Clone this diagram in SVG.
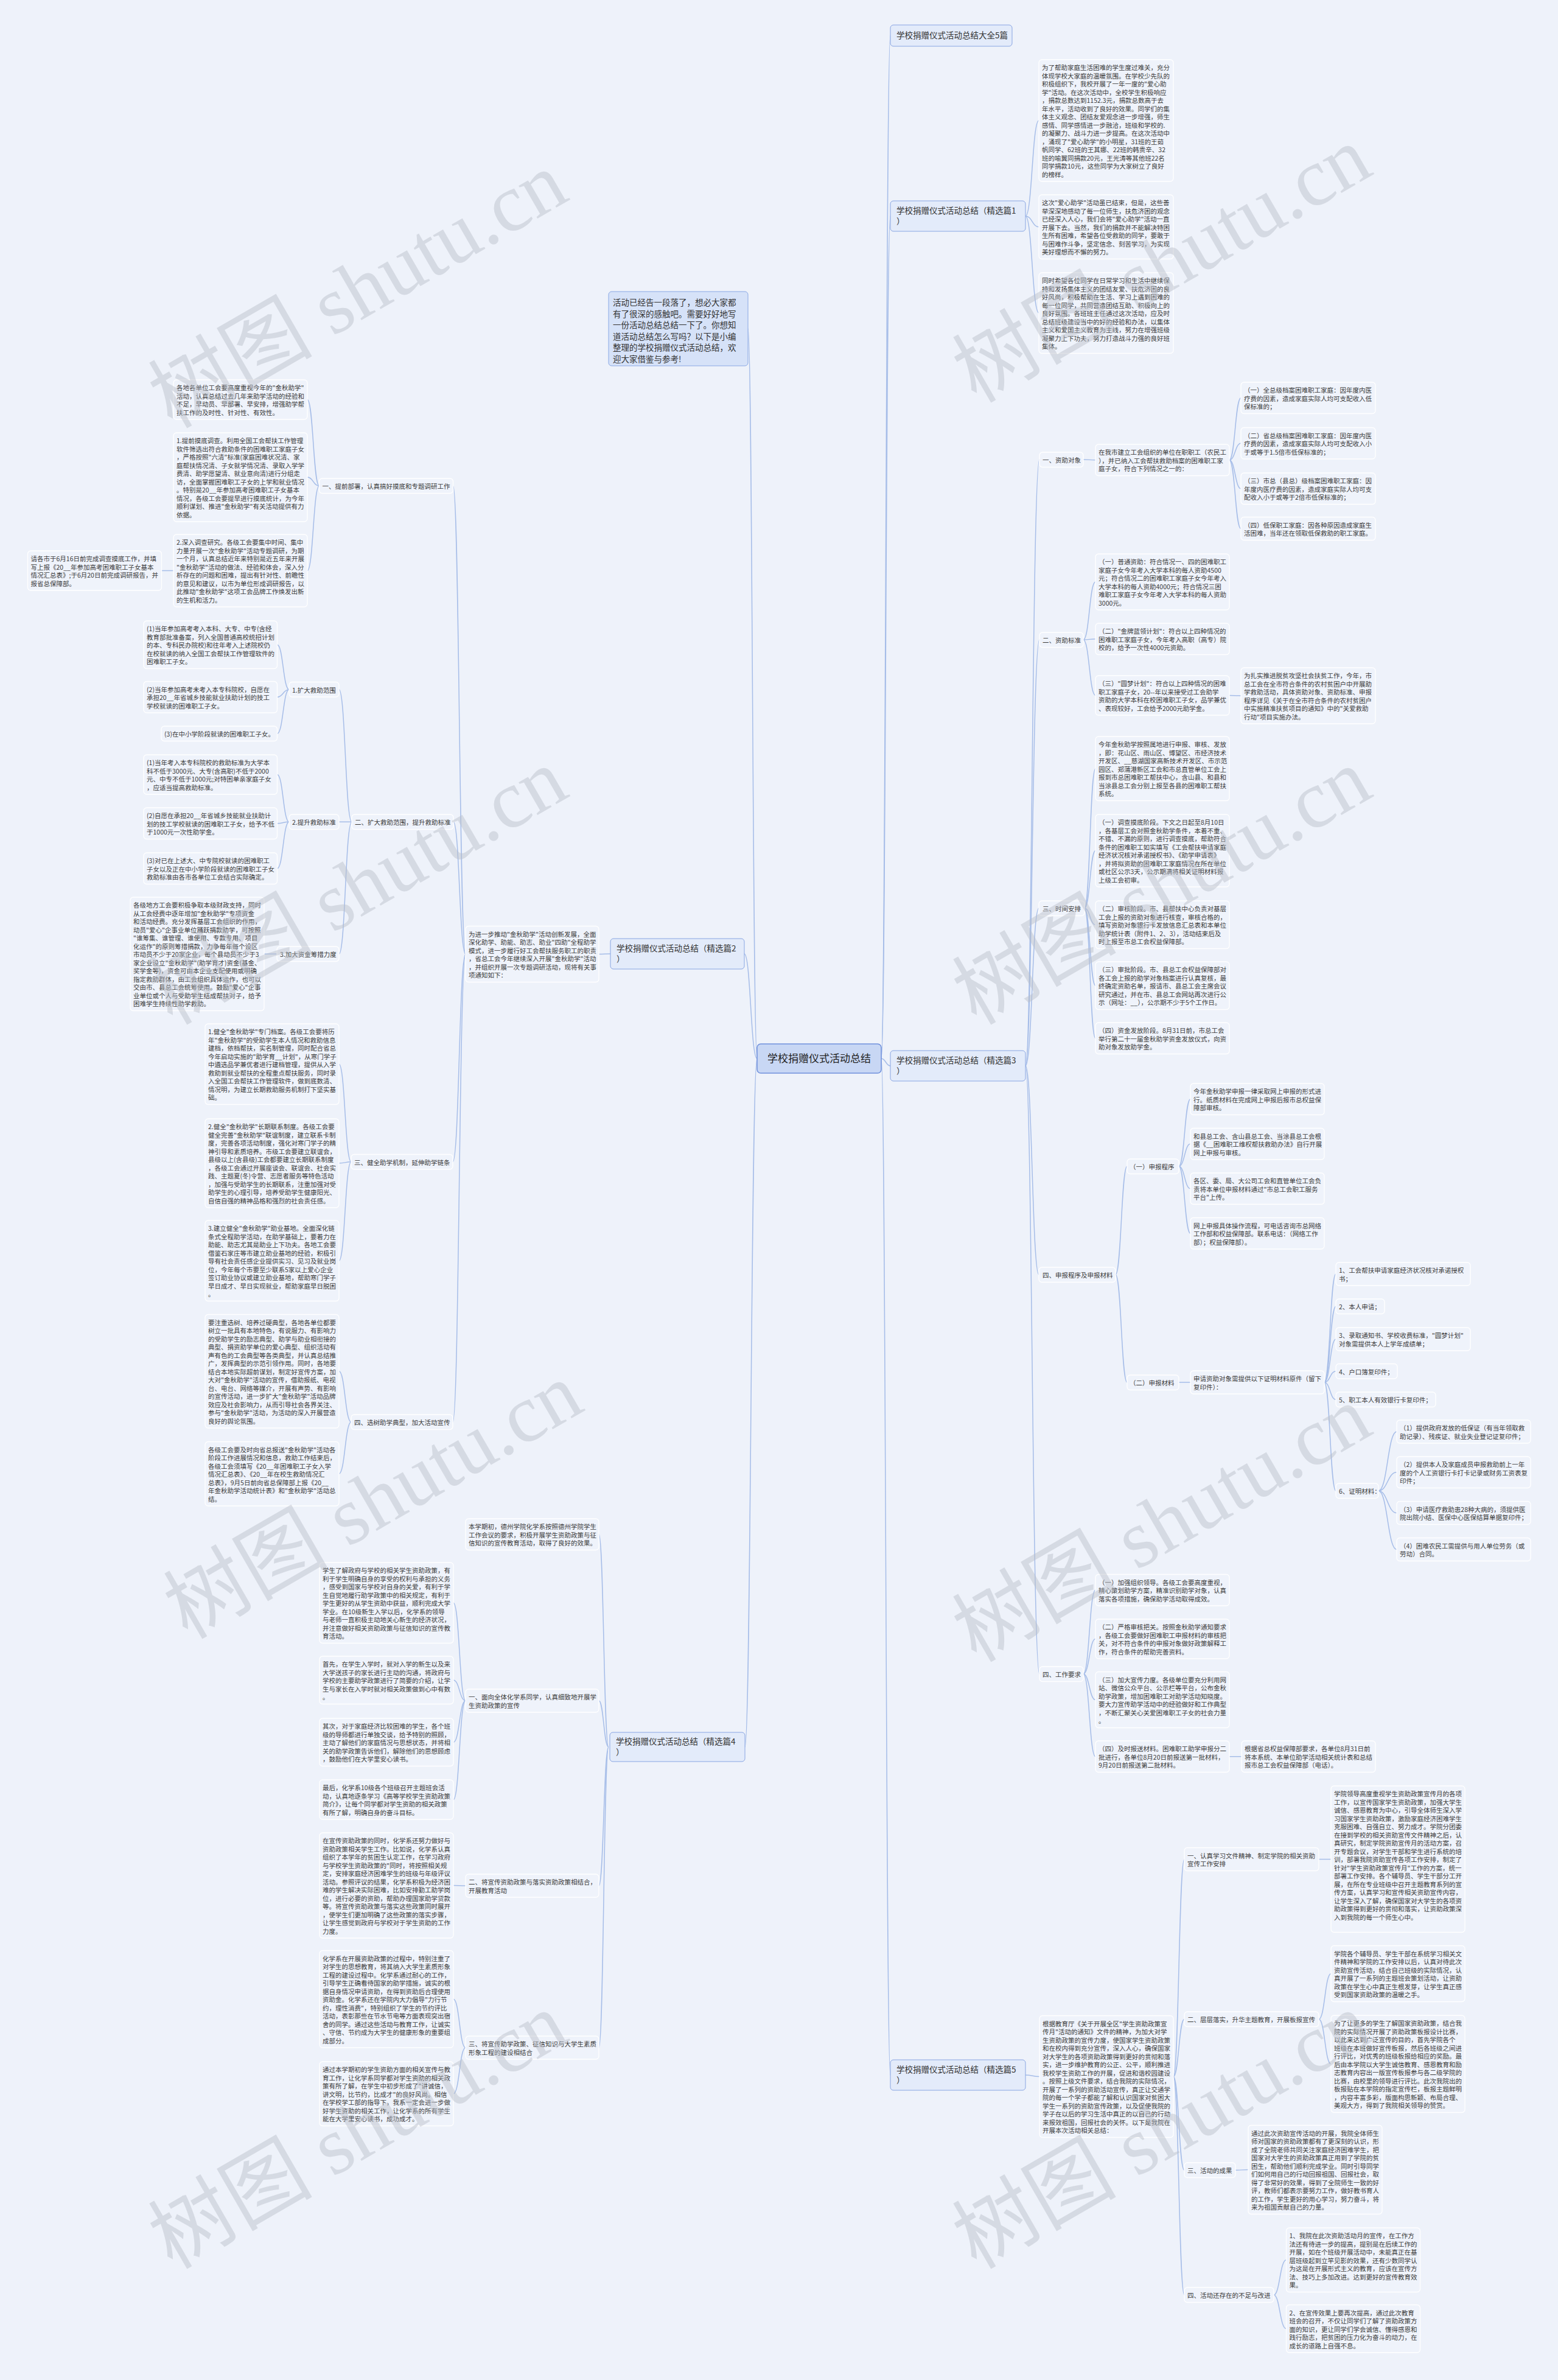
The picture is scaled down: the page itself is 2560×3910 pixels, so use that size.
<svg xmlns="http://www.w3.org/2000/svg" width="2560" height="3910" viewBox="0 0 2560 3910">
<style>
.box{fill:#eff3fb;stroke:#ffffff;stroke-width:1.3}
.t{font-family:"Noto Sans CJK SC","Liberation Sans",sans-serif;font-size:10.5px;fill:#3a3a3a}
.l1{fill:#e3ebfa;stroke:#88a5e2;stroke-width:1}
.l1t{font-family:"Noto Sans CJK SC","Liberation Sans",sans-serif;font-size:13.5px;fill:#333}
.cn{fill:#c8d7f4;stroke:#6f90dc;stroke-width:1.5}
.ct{font-family:"Noto Sans CJK SC","Liberation Sans",sans-serif;font-size:17px;fill:#222}
.nt{fill:#d6e2f8;stroke:#8aa8e4;stroke-width:1}
.ln{fill:none;stroke:#a6bde8;stroke-width:1.5}
.wm{font-family:"Liberation Serif","Noto Sans CJK SC",serif;font-size:135px;fill:#b9bec8;opacity:0.45;text-anchor:middle}
</style>
<rect width="2560" height="3910" fill="#eef2fa"/>
<g id="connectors">
<path class="ln" d="M1448 1739C1455.5 1739 1455.5 58.5 1463 58.5"/>
<path class="ln" d="M1448 1739C1455.5 1739 1455.5 355 1463 355"/>
<path class="ln" d="M1448 1739C1455.5 1739 1455.5 1751 1463 1751"/>
<path class="ln" d="M1448 1739C1455.5 1739 1455.5 3409 1463 3409"/>
<path class="ln" d="M1244 1739C1236.5 1739 1236.5 540 1229 540"/>
<path class="ln" d="M1244 1739C1233.5 1739 1233.5 1567 1223 1567"/>
<path class="ln" d="M1244 1739C1234 1739 1234 2870 1224 2870"/>
<path class="ln" d="M1685 355C1696 355 1696 198 1707 198"/>
<path class="ln" d="M1685 355C1696 355 1696 372.75 1707 372.75"/>
<path class="ln" d="M1685 355C1696 355 1696 514 1707 514"/>
<path class="ln" d="M1685 1751C1696 1751 1696 755 1708 755"/>
<path class="ln" d="M1685 1751C1696 1751 1696 1051 1708 1051"/>
<path class="ln" d="M1685 1751C1696 1751 1696 1492 1707 1492"/>
<path class="ln" d="M1685 1751C1696 1751 1696 2094 1707 2094"/>
<path class="ln" d="M1685 1751C1696 1751 1696 2750 1708 2750"/>
<path class="ln" d="M1780 755C1790 755 1790 755.75 1800 755.75"/>
<path class="ln" d="M2020 755.75C2029.5 755.75 2029.5 653.75 2039 653.75"/>
<path class="ln" d="M2020 755.75C2029.5 755.75 2029.5 728.25 2039 728.25"/>
<path class="ln" d="M2020 755.75C2029.5 755.75 2029.5 802.75 2039 802.75"/>
<path class="ln" d="M2020 755.75C2029.5 755.75 2029.5 868.5 2039 868.5"/>
<path class="ln" d="M1780 1051C1790 1051 1790 956 1800 956"/>
<path class="ln" d="M1780 1051C1790 1051 1790 1049.75 1800 1049.75"/>
<path class="ln" d="M1780 1051C1790 1051 1790 1142.5 1800 1142.5"/>
<path class="ln" d="M2020 1142.5C2029.5 1142.5 2029.5 1143 2039 1143"/>
<path class="ln" d="M1782 1492C1791 1492 1791 1262.75 1800 1262.75"/>
<path class="ln" d="M1782 1492C1791 1492 1791 1397.5 1800 1397.5"/>
<path class="ln" d="M1782 1492C1791 1492 1791 1519.25 1800 1519.25"/>
<path class="ln" d="M1782 1492C1791 1492 1791 1619.25 1800 1619.25"/>
<path class="ln" d="M1782 1492C1791 1492 1791 1705.75 1800 1705.75"/>
<path class="ln" d="M1833 2094C1842.5 2094 1842.5 1916 1852 1916"/>
<path class="ln" d="M1833 2094C1842.5 2094 1842.5 2271 1852 2271"/>
<path class="ln" d="M1937 1916C1946.5 1916 1946.5 1805.75 1956 1805.75"/>
<path class="ln" d="M1937 1916C1946.5 1916 1946.5 1879.25 1956 1879.25"/>
<path class="ln" d="M1937 1916C1946.5 1916 1946.5 1952.75 1956 1952.75"/>
<path class="ln" d="M1937 1916C1946.5 1916 1946.5 2026.25 1956 2026.25"/>
<path class="ln" d="M1937 2271C1946.5 2271 1946.5 2271 1956 2271"/>
<path class="ln" d="M2176 2271C2185.5 2271 2185.5 2093 2195 2093"/>
<path class="ln" d="M2176 2271C2185.5 2271 2185.5 2146.25 2195 2146.25"/>
<path class="ln" d="M2176 2271C2185.5 2271 2185.5 2200 2195 2200"/>
<path class="ln" d="M2176 2271C2185.5 2271 2185.5 2252.75 2195 2252.75"/>
<path class="ln" d="M2176 2271C2185.5 2271 2185.5 2299.25 2195 2299.25"/>
<path class="ln" d="M2176 2271C2185.5 2271 2185.5 2449.25 2195 2449.25"/>
<path class="ln" d="M2265 2449.25C2280 2449.25 2280 2352 2295 2352"/>
<path class="ln" d="M2265 2449.25C2280 2449.25 2280 2418.75 2295 2418.75"/>
<path class="ln" d="M2265 2449.25C2280 2449.25 2280 2485.5 2295 2485.5"/>
<path class="ln" d="M2265 2449.25C2280 2449.25 2280 2545.5 2295 2545.5"/>
<path class="ln" d="M1780 2750C1790 2750 1790 2612.25 1800 2612.25"/>
<path class="ln" d="M1780 2750C1790 2750 1790 2692.5 1800 2692.5"/>
<path class="ln" d="M1780 2750C1790 2750 1790 2792.5 1800 2792.5"/>
<path class="ln" d="M1780 2750C1790 2750 1790 2885.75 1800 2885.75"/>
<path class="ln" d="M2020 2885.75C2030 2885.75 2030 2885.75 2040 2885.75"/>
<path class="ln" d="M1685 3409C1696.5 3409 1696.5 3411.5 1708 3411.5"/>
<path class="ln" d="M1928 3411.5C1937 3411.5 1937 3054.5 1946 3054.5"/>
<path class="ln" d="M1928 3411.5C1937 3411.5 1937 3317.25 1946 3317.25"/>
<path class="ln" d="M1928 3411.5C1937 3411.5 1937 3565.25 1946 3565.25"/>
<path class="ln" d="M1928 3411.5C1937 3411.5 1937 3770.25 1946 3770.25"/>
<path class="ln" d="M2167 3054.5C2177 3054.5 2177 3054.5 2187 3054.5"/>
<path class="ln" d="M2167 3317.25C2177 3317.25 2177 3242.5 2187 3242.5"/>
<path class="ln" d="M2167 3317.25C2177 3317.25 2177 3390.75 2187 3390.75"/>
<path class="ln" d="M2030 3565.25C2040.5 3565.25 2040.5 3564.5 2051 3564.5"/>
<path class="ln" d="M2093 3770.25C2103 3770.25 2103 3712.75 2113.5 3712.75"/>
<path class="ln" d="M2093 3770.25C2103 3770.25 2103 3825.75 2113.5 3825.75"/>
<path class="ln" d="M1003 1567C993.5 1567 993.5 1567.5 984 1567.5"/>
<path class="ln" d="M765 1567.5C754.75 1567.5 754.75 798.25 744.5 798.25"/>
<path class="ln" d="M765 1567.5C755 1567.5 755 1350.25 745 1350.25"/>
<path class="ln" d="M765 1567.5C754.5 1567.5 754.5 1908.75 744 1908.75"/>
<path class="ln" d="M765 1567.5C754.5 1567.5 754.5 2336.25 744 2336.25"/>
<path class="ln" d="M524.5 798.25C514.75 798.25 514.75 656.5 505 656.5"/>
<path class="ln" d="M524.5 798.25C514.75 798.25 514.75 784 505 784"/>
<path class="ln" d="M524.5 798.25C514.75 798.25 514.75 937.5 505 937.5"/>
<path class="ln" d="M285 937.5C275.25 937.5 275.25 937.5 265.5 937.5"/>
<path class="ln" d="M578 1350.25C567.5 1350.25 567.5 1132.75 557 1132.75"/>
<path class="ln" d="M578 1350.25C567.5 1350.25 567.5 1350.25 557 1350.25"/>
<path class="ln" d="M578 1350.25C567.5 1350.25 567.5 1567.25 557 1567.25"/>
<path class="ln" d="M475 1132.75C465.25 1132.75 465.25 1059.25 455.5 1059.25"/>
<path class="ln" d="M475 1132.75C465.25 1132.75 465.25 1145.25 455.5 1145.25"/>
<path class="ln" d="M475 1132.75C465.25 1132.75 465.25 1205.25 455.5 1205.25"/>
<path class="ln" d="M475 1350.25C465.25 1350.25 465.25 1272.5 455.5 1272.5"/>
<path class="ln" d="M475 1350.25C465.25 1350.25 465.25 1352.75 455.5 1352.75"/>
<path class="ln" d="M475 1350.25C465.25 1350.25 465.25 1426.75 455.5 1426.75"/>
<path class="ln" d="M455 1567.25C444.5 1567.25 444.5 1567.25 434 1567.25"/>
<path class="ln" d="M577 1908.75C567 1908.75 567 1748.25 557 1748.25"/>
<path class="ln" d="M577 1908.75C567 1908.75 567 1911 557 1911"/>
<path class="ln" d="M577 1908.75C567 1908.75 567 2071.25 557 2071.25"/>
<path class="ln" d="M577 2336.25C567 2336.25 567 2252.75 557 2252.75"/>
<path class="ln" d="M577 2336.25C567 2336.25 567 2421.25 557 2421.25"/>
<path class="ln" d="M1000 2870C992 2870 992 2520.75 984 2520.75"/>
<path class="ln" d="M1000 2870C992 2870 992 2794 984 2794"/>
<path class="ln" d="M1000 2870C992 2870 992 3098 984 3098"/>
<path class="ln" d="M1000 2870C992 2870 992 3364 984 3364"/>
<path class="ln" d="M765 2794C755 2794 755 2633.25 745 2633.25"/>
<path class="ln" d="M765 2794C755 2794 755 2760.25 745 2760.25"/>
<path class="ln" d="M765 2794C755 2794 755 2862.25 745 2862.25"/>
<path class="ln" d="M765 2794C755 2794 755 2956.5 745 2956.5"/>
<path class="ln" d="M765 3098C755 3098 755 3097.5 745 3097.5"/>
<path class="ln" d="M765 3364C755 3364 755 3284.25 745 3284.25"/>
<path class="ln" d="M765 3364C755 3364 755 3439.75 745 3439.75"/>
</g>

<g id="center"><rect class="cn" x="1244" y="1715" width="204" height="48" rx="6"/><text class="ct" x="1346" y="1745" text-anchor="middle">学校捐赠仪式活动总结</text></g>

<g id="n-daquan"><rect class="l1" x="1463" y="41" width="200" height="35" rx="5"/><text class="l1t" x="1473" y="63">学校捐赠仪式活动总结大全5篇</text></g>
<g id="n-p1"><rect class="l1" x="1463" y="330" width="222" height="50" rx="5"/><text class="l1t" x="1473" y="351"><tspan x="1473">学校捐赠仪式活动总结（精选篇1</tspan><tspan x="1473" dy="17">）</tspan></text></g>
<g id="n-p3"><rect class="l1" x="1463" y="1726" width="222" height="50" rx="5"/><text class="l1t" x="1473" y="1747"><tspan x="1473">学校捐赠仪式活动总结（精选篇3</tspan><tspan x="1473" dy="17">）</tspan></text></g>
<g id="n-p5"><rect class="l1" x="1463" y="3384" width="222" height="50" rx="5"/><text class="l1t" x="1473" y="3405"><tspan x="1473">学校捐赠仪式活动总结（精选篇5</tspan><tspan x="1473" dy="17">）</tspan></text></g>
<g id="n-p2"><rect class="l1" x="1003" y="1542" width="220" height="50" rx="5"/><text class="l1t" x="1013" y="1563"><tspan x="1013">学校捐赠仪式活动总结（精选篇2</tspan><tspan x="1013" dy="17">）</tspan></text></g>
<g id="n-p4"><rect class="l1" x="1002" y="2846" width="222" height="48" rx="5"/><text class="l1t" x="1012" y="2866"><tspan x="1012">学校捐赠仪式活动总结（精选篇4</tspan><tspan x="1012" dy="17">）</tspan></text></g>
<g id="n-intro"><rect class="nt" x="1000" y="479" width="229" height="122" rx="5"/><text class="l1t" x="1007" y="502"><tspan x="1007">活动已经告一段落了，想必大家都</tspan><tspan x="1007" dy="18.5">有了很深的感触吧。需要好好地写</tspan><tspan x="1007" dy="18.5">一份活动总结总结一下了。你想知</tspan><tspan x="1007" dy="18.5">道活动总结怎么写吗？以下是小编</tspan><tspan x="1007" dy="18.5">整理的学校捐赠仪式活动总结，欢</tspan><tspan x="1007" dy="18.5">迎大家借鉴与参考!</tspan></text></g>

<g id="p1-a"><rect class="box" x="1707" y="98" width="221" height="200" rx="5"/><text class="t" x="1712" y="115"><tspan x="1712">为了帮助家庭生活困难的学生度过难关，充分</tspan><tspan x="1712" dy="13.5">体现学校大家庭的温暖氛围。在学校少先队的</tspan><tspan x="1712" dy="13.5">积极组织下，我校开展了一年一度的"爱心助</tspan><tspan x="1712" dy="13.5">学"活动。在这次活动中，全校学生积极响应</tspan><tspan x="1712" dy="13.5">，捐款总数达到1152.3元，捐款总数高于去</tspan><tspan x="1712" dy="13.5">年水平，活动收到了良好的效果。同学们的集</tspan><tspan x="1712" dy="13.5">体主义观念、团结友爱观念进一步增强，师生</tspan><tspan x="1712" dy="13.5">感情、同学感情进一步融洽，班级和学校的.</tspan><tspan x="1712" dy="13.5">的凝聚力、战斗力进一步提高。在这次活动中</tspan><tspan x="1712" dy="13.5">，涌现了"爱心助学"的小明星，31班的王茹</tspan><tspan x="1712" dy="13.5">帆同学、62班的王其娜、22班的韩贵辛、32</tspan><tspan x="1712" dy="13.5">班的喻翼同捐款20元，王光涛等其他班22名</tspan><tspan x="1712" dy="13.5">同学捐款10元，这些同学为大家树立了良好</tspan><tspan x="1712" dy="13.5">的榜样。</tspan></text></g>
<g id="p1-b"><rect class="box" x="1707" y="320" width="221" height="105.5" rx="5"/><text class="t" x="1712" y="337"><tspan x="1712">这次"爱心助学"活动虽已结束，但是，这些善</tspan><tspan x="1712" dy="13.5">举深深地感动了每一位师生，扶危济困的观念</tspan><tspan x="1712" dy="13.5">已经深入人心，我们会将"爱心助学"活动一直</tspan><tspan x="1712" dy="13.5">开展下去。当然，我们的捐款并不能解决特困</tspan><tspan x="1712" dy="13.5">生所有困难，希望各位受救助的同学，要敢于</tspan><tspan x="1712" dy="13.5">与困难作斗争，坚定信念、刻苦学习，为实现</tspan><tspan x="1712" dy="13.5">美好理想而不懈的努力。</tspan></text></g>
<g id="p1-c"><rect class="box" x="1707" y="448" width="221" height="132.5" rx="5"/><text class="t" x="1712" y="465"><tspan x="1712">同时希望各位同学在日常学习和生活中继续保</tspan><tspan x="1712" dy="13.5">持和发扬集体主义的团结友爱、扶危济困的良</tspan><tspan x="1712" dy="13.5">好风尚，积极帮助在生活、学习上遇到困难的</tspan><tspan x="1712" dy="13.5">每一位同学，共同营造团结互助、积极向上的</tspan><tspan x="1712" dy="13.5">良好氛围。各班班主任通过这次活动，应及时</tspan><tspan x="1712" dy="13.5">总结班级建设当中的好的经验和办法，以集体</tspan><tspan x="1712" dy="13.5">主义和爱国主义教育为主线，努力在增强班级</tspan><tspan x="1712" dy="13.5">凝聚力上下功夫，努力打造战斗力强的良好班</tspan><tspan x="1712" dy="13.5">集体。</tspan></text></g>

<g id="p3-h1"><rect class="box" x="1708" y="743" width="72" height="24.5" rx="5"/><text class="t" x="1713" y="760">一、资助对象</text></g>
<g id="p3-t1"><rect class="box" x="1800" y="730" width="220" height="51.5" rx="5"/><text class="t" x="1805" y="747"><tspan x="1805">在我市建立工会组织的单位在职职工（农民工</tspan><tspan x="1805" dy="13.5">），并已纳入工会帮扶救助档案的困难职工家</tspan><tspan x="1805" dy="13.5">庭子女，符合下列情况之一的：</tspan></text></g>
<g id="p3-s1"><rect class="box" x="2039" y="628" width="221" height="51.5" rx="5"/><text class="t" x="2044" y="645"><tspan x="2044">（一）全总级档案困难职工家庭：因年度内医</tspan><tspan x="2044" dy="13.5">疗费的因素，造成家庭实际人均可支配收入低</tspan><tspan x="2044" dy="13.5">保标准的；</tspan></text></g>
<g id="p3-s2"><rect class="box" x="2039" y="702.5" width="221" height="51.5" rx="5"/><text class="t" x="2044" y="719.5"><tspan x="2044">（二）省总级档案困难职工家庭：因年度内医</tspan><tspan x="2044" dy="13.5">疗费的因素，造成家庭实际人均可支配收入小</tspan><tspan x="2044" dy="13.5">于或等于1.5倍市低保标准的；</tspan></text></g>
<g id="p3-s3"><rect class="box" x="2039" y="777" width="221" height="51.5" rx="5"/><text class="t" x="2044" y="794"><tspan x="2044">（三）市总（县总）级档案困难职工家庭：因</tspan><tspan x="2044" dy="13.5">年度内医疗费的因素，造成家庭实际人均可支</tspan><tspan x="2044" dy="13.5">配收入小于或等于2倍市低保标准的；</tspan></text></g>
<g id="p3-s4"><rect class="box" x="2039" y="849.5" width="221" height="38" rx="5"/><text class="t" x="2044" y="866.5"><tspan x="2044">（四）低保职工家庭：因各种原因造成家庭生</tspan><tspan x="2044" dy="13.5">活困难，当年还在领取低保救助的职工家庭。</tspan></text></g>

<g id="p3-h2"><rect class="box" x="1708" y="1039" width="72" height="24.5" rx="5"/><text class="t" x="1713" y="1056">二、资助标准</text></g>
<g id="p3-t2a"><rect class="box" x="1800" y="910" width="220" height="92" rx="5"/><text class="t" x="1805" y="927"><tspan x="1805">（一）普通资助：符合情况一、四的困难职工</tspan><tspan x="1805" dy="13.5">家庭子女今年考入大学本科的每人资助4500</tspan><tspan x="1805" dy="13.5">元；符合情况二的困难职工家庭子女今年考入</tspan><tspan x="1805" dy="13.5">大学本科的每人资助4000元；符合情况三困</tspan><tspan x="1805" dy="13.5">难职工家庭子女今年考入大学本科的每人资助</tspan><tspan x="1805" dy="13.5">3000元。</tspan></text></g>
<g id="p3-t2b"><rect class="box" x="1800" y="1024" width="220" height="51.5" rx="5"/><text class="t" x="1805" y="1041"><tspan x="1805">（二）"金牌蓝领计划"：符合以上四种情况的</tspan><tspan x="1805" dy="13.5">困难职工家庭子女，今年考入高职（高专）院</tspan><tspan x="1805" dy="13.5">校的，给予一次性4000元资助。</tspan></text></g>
<g id="p3-t2c"><rect class="box" x="1800" y="1110" width="220" height="65" rx="5"/><text class="t" x="1805" y="1127"><tspan x="1805">（三）"圆梦计划"：符合以上四种情况的困难</tspan><tspan x="1805" dy="13.5">职工家庭子女，20--年以来接受过工会助学</tspan><tspan x="1805" dy="13.5">资助的大学本科在校困难职工子女，品学兼优</tspan><tspan x="1805" dy="13.5">、表现较好，工会给予2000元助学金。</tspan></text></g>
<g id="p3-n2c"><rect class="box" x="2039" y="1097" width="221" height="92" rx="5"/><text class="t" x="2044" y="1114"><tspan x="2044">为扎实推进脱贫攻坚社会扶贫工作，今年，市</tspan><tspan x="2044" dy="13.5">总工会在全市符合条件的农村贫困户中开展助</tspan><tspan x="2044" dy="13.5">学救助活动，具体资助对象、资助标准、申报</tspan><tspan x="2044" dy="13.5">程序详见《关于在全市符合条件的农村贫困户</tspan><tspan x="2044" dy="13.5">中实施精准扶贫项目的通知》中的"关爱救助</tspan><tspan x="2044" dy="13.5">行动"项目实施办法。</tspan></text></g>

<g id="p3-h3"><rect class="box" x="1707" y="1480" width="75" height="24.5" rx="5"/><text class="t" x="1713" y="1497">三、时间安排</text></g>
<g id="p3-t3a"><rect class="box" x="1800" y="1210" width="220" height="105.5" rx="5"/><text class="t" x="1805" y="1227"><tspan x="1805">今年金秋助学按照属地进行申报、审核、发放</tspan><tspan x="1805" dy="13.5">，即：花山区、雨山区、博望区、市经济技术</tspan><tspan x="1805" dy="13.5">开发区、__慈湖国家高新技术开发区、市示范</tspan><tspan x="1805" dy="13.5">园区、郑蒲港新区工会和市总直管单位工会上</tspan><tspan x="1805" dy="13.5">报到市总困难职工帮扶中心，含山县、和县和</tspan><tspan x="1805" dy="13.5">当涂县总工会分别上报至各县的困难职工帮扶</tspan><tspan x="1805" dy="13.5">系统。</tspan></text></g>
<g id="p3-t3b"><rect class="box" x="1800" y="1338" width="220" height="119" rx="5"/><text class="t" x="1805" y="1355"><tspan x="1805">（一）调查摸底阶段。下文之日起至8月10日</tspan><tspan x="1805" dy="13.5">，各基层工会对照金秋助学条件，本着不重、</tspan><tspan x="1805" dy="13.5">不错、不漏的原则，进行调查摸底，帮助符合</tspan><tspan x="1805" dy="13.5">条件的困难职工如实填写《工会帮扶申请家庭</tspan><tspan x="1805" dy="13.5">经济状况核对承诺授权书》、《助学申请表》</tspan><tspan x="1805" dy="13.5">，并将拟资助的困难职工家庭情况在所在单位</tspan><tspan x="1805" dy="13.5">或社区公示3天，公示期满将相关证明材料报</tspan><tspan x="1805" dy="13.5">上级工会初审。</tspan></text></g>
<g id="p3-t3c"><rect class="box" x="1800" y="1480" width="220" height="78.5" rx="5"/><text class="t" x="1805" y="1497"><tspan x="1805">（二）审核阶段。市、县帮扶中心负责对基层</tspan><tspan x="1805" dy="13.5">工会上报的资助对象进行核查，审核合格的，</tspan><tspan x="1805" dy="13.5">填写资助对象银行卡发放信息汇总表和本单位</tspan><tspan x="1805" dy="13.5">助学统计表（附件1、2、3），活动结束后及</tspan><tspan x="1805" dy="13.5">时上报至市总工会权益保障部。</tspan></text></g>
<g id="p3-t3d"><rect class="box" x="1800" y="1580" width="220" height="78.5" rx="5"/><text class="t" x="1805" y="1597"><tspan x="1805">（三）审批阶段。市、县总工会权益保障部对</tspan><tspan x="1805" dy="13.5">各工会上报的助学对象档案进行认真复核，最</tspan><tspan x="1805" dy="13.5">终确定资助名单，报请市、县总工会主席会议</tspan><tspan x="1805" dy="13.5">研究通过，并在市、县总工会网站再次进行公</tspan><tspan x="1805" dy="13.5">示（网址：__），公示期不少于5个工作日。</tspan></text></g>
<g id="p3-t3e"><rect class="box" x="1800" y="1680" width="220" height="51.5" rx="5"/><text class="t" x="1805" y="1697"><tspan x="1805">（四）资金发放阶段。8月31日前，市总工会</tspan><tspan x="1805" dy="13.5">举行第二十一届金秋助学资金发放仪式，向资</tspan><tspan x="1805" dy="13.5">助对象发放助学金。</tspan></text></g>

<g id="p3-h4"><rect class="box" x="1707" y="2082" width="126" height="24.5" rx="5"/><text class="t" x="1713" y="2099">四、申报程序及申报材料</text></g>
<g id="p3-p"><rect class="box" x="1852" y="1904" width="85" height="24.5" rx="5"/><text class="t" x="1856" y="1921">（一）申报程序</text></g>
<g id="p3-p1"><rect class="box" x="1956" y="1780" width="220" height="51.5" rx="5"/><text class="t" x="1961" y="1797"><tspan x="1961">今年金秋助学申报一律采取网上申报的形式进</tspan><tspan x="1961" dy="13.5">行。纸质材料在完成网上申报后报市总权益保</tspan><tspan x="1961" dy="13.5">障部审核。</tspan></text></g>
<g id="p3-p2"><rect class="box" x="1956" y="1853.5" width="220" height="51.5" rx="5"/><text class="t" x="1961" y="1870.5"><tspan x="1961">和县总工会、含山县总工会、当涂县总工会根</tspan><tspan x="1961" dy="13.5">据《__困难职工维权帮扶救助办法》自行开展</tspan><tspan x="1961" dy="13.5">网上申报与审核。</tspan></text></g>
<g id="p3-p3"><rect class="box" x="1956" y="1927" width="220" height="51.5" rx="5"/><text class="t" x="1961" y="1944"><tspan x="1961">各区、委、局、大公司工会和直管单位工会负</tspan><tspan x="1961" dy="13.5">责将本单位申报材料通过"市总工会职工服务</tspan><tspan x="1961" dy="13.5">平台"上传。</tspan></text></g>
<g id="p3-p4"><rect class="box" x="1956" y="2000.5" width="220" height="51.5" rx="5"/><text class="t" x="1961" y="2017.5"><tspan x="1961">网上申报具体操作流程，可电话咨询市总网络</tspan><tspan x="1961" dy="13.5">工作部和权益保障部。联系电话：（网络工作</tspan><tspan x="1961" dy="13.5">部）；权益保障部）。</tspan></text></g>
<g id="p3-m"><rect class="box" x="1852" y="2259" width="85" height="24.5" rx="5"/><text class="t" x="1856" y="2276">（二）申报材料</text></g>
<g id="p3-m0"><rect class="box" x="1956" y="2252" width="220" height="38" rx="5"/><text class="t" x="1961" y="2269"><tspan x="1961">申请资助对象需提供以下证明材料原件（留下</tspan><tspan x="1961" dy="13.5">复印件）：</tspan></text></g>
<g id="p3-m1"><rect class="box" x="2195" y="2074" width="221" height="38" rx="5"/><text class="t" x="2200" y="2091"><tspan x="2200">1、工会帮扶申请家庭经济状况核对承诺授权</tspan><tspan x="2200" dy="13.5">书；</tspan></text></g>
<g id="p3-m2"><rect class="box" x="2195" y="2134" width="80" height="24.5" rx="5"/><text class="t" x="2200" y="2151">2、本人申请；</text></g>
<g id="p3-m3"><rect class="box" x="2195" y="2181" width="221" height="38" rx="5"/><text class="t" x="2200" y="2198"><tspan x="2200">3、录取通知书、学校收费标准，"圆梦计划"</tspan><tspan x="2200" dy="13.5">对象需提供本人上学年成绩单；</tspan></text></g>
<g id="p3-m4"><rect class="box" x="2195" y="2240.5" width="101" height="24.5" rx="5"/><text class="t" x="2200" y="2257.5">4、户口簿复印件；</text></g>
<g id="p3-m5"><rect class="box" x="2195" y="2287" width="164" height="24.5" rx="5"/><text class="t" x="2200" y="2304">5、职工本人有效银行卡复印件；</text></g>
<g id="p3-m6"><rect class="box" x="2195" y="2437" width="70" height="24.5" rx="5"/><text class="t" x="2200" y="2454">6、证明材料：</text></g>
<g id="p3-m6a"><rect class="box" x="2295" y="2333" width="220" height="38" rx="5"/><text class="t" x="2300" y="2350"><tspan x="2300">（1）提供政府发放的低保证（有当年领取救</tspan><tspan x="2300" dy="13.5">助记录）、残疾证、就业失业登记证复印件；</tspan></text></g>
<g id="p3-m6b"><rect class="box" x="2295" y="2393" width="220" height="51.5" rx="5"/><text class="t" x="2300" y="2410"><tspan x="2300">（2）提供本人及家庭成员申报救助前上一年</tspan><tspan x="2300" dy="13.5">度的个人工资银行卡打卡记录或财务工资表复</tspan><tspan x="2300" dy="13.5">印件；</tspan></text></g>
<g id="p3-m6c"><rect class="box" x="2295" y="2466.5" width="220" height="38" rx="5"/><text class="t" x="2300" y="2483.5"><tspan x="2300">（3）申请医疗救助患28种大病的，须提供医</tspan><tspan x="2300" dy="13.5">院出院小结、医保中心医保结算单据复印件；</tspan></text></g>
<g id="p3-m6d"><rect class="box" x="2295" y="2526.5" width="220" height="38" rx="5"/><text class="t" x="2300" y="2543.5"><tspan x="2300">（4）困难农民工需提供与用人单位劳务（或</tspan><tspan x="2300" dy="13.5">劳动）合同。</tspan></text></g>

<g id="p3-h5"><rect class="box" x="1708" y="2738" width="72" height="24.5" rx="5"/><text class="t" x="1713" y="2755">四、工作要求</text></g>
<g id="p3-w1"><rect class="box" x="1800" y="2586.5" width="220" height="51.5" rx="5"/><text class="t" x="1805" y="2603.5"><tspan x="1805">（一）加强组织领导。各级工会要高度重视，</tspan><tspan x="1805" dy="13.5">精心策划助学方案，精准识别助学对象，认真</tspan><tspan x="1805" dy="13.5">落实各项措施，确保助学活动取得成效。</tspan></text></g>
<g id="p3-w2"><rect class="box" x="1800" y="2660" width="220" height="65" rx="5"/><text class="t" x="1805" y="2677"><tspan x="1805">（二）严格审核把关。按照金秋助学通知要求</tspan><tspan x="1805" dy="13.5">，各级工会要做好困难职工申报材料的审核把</tspan><tspan x="1805" dy="13.5">关，对不符合条件的申报对象做好政策解释工</tspan><tspan x="1805" dy="13.5">作，符合条件的帮助完善资料。</tspan></text></g>
<g id="p3-w3"><rect class="box" x="1800" y="2746.5" width="220" height="92" rx="5"/><text class="t" x="1805" y="2763.5"><tspan x="1805">（三）加大宣传力度。各级单位要充分利用网</tspan><tspan x="1805" dy="13.5">站、微信公众平台、公示栏等平台，公布金秋</tspan><tspan x="1805" dy="13.5">助学政策，增加困难职工对助学活动知晓度。</tspan><tspan x="1805" dy="13.5">要大力宣传助学活动中的经验做好和工作典型</tspan><tspan x="1805" dy="13.5">，不断汇聚关心关爱困难职工子女的社会力量</tspan><tspan x="1805" dy="13.5">。</tspan></text></g>
<g id="p3-w4"><rect class="box" x="1800" y="2860" width="220" height="51.5" rx="5"/><text class="t" x="1805" y="2877"><tspan x="1805">（四）及时报送材料。困难职工助学申报分二</tspan><tspan x="1805" dy="13.5">批进行，各单位8月20日前报送第一批材料，</tspan><tspan x="1805" dy="13.5">9月20日前报送第二批材料。</tspan></text></g>
<g id="p3-w4n"><rect class="box" x="2040" y="2860" width="220" height="51.5" rx="5"/><text class="t" x="2045" y="2877"><tspan x="2045">根据省总权益保障部要求，各单位8月31日前</tspan><tspan x="2045" dy="13.5">将本系统、本单位助学活动相关统计表和总结</tspan><tspan x="2045" dy="13.5">报市总工会权益保障部（电话）。</tspan></text></g>

<g id="p5-intro"><rect class="box" x="1708" y="3311.5" width="220" height="200" rx="5"/><text class="t" x="1713" y="3328.5"><tspan x="1713">根据教育厅《关于开展全区"学生资助政策宣</tspan><tspan x="1713" dy="13.5">传月"活动的通知》文件的精神，为加大对学</tspan><tspan x="1713" dy="13.5">生资助政策的宣传力度，使国家学生资助政策</tspan><tspan x="1713" dy="13.5">和在校内得到充分宣传，深入人心，确保国家</tspan><tspan x="1713" dy="13.5">对大学生的各项资助政策得到更好的贯彻和落</tspan><tspan x="1713" dy="13.5">实，进一步维护教育的公正、公平，顺利推进</tspan><tspan x="1713" dy="13.5">我校学生资助工作的开展，促进和谐校园建设</tspan><tspan x="1713" dy="13.5">。按照上级文件要求，结合我院的实际情况，</tspan><tspan x="1713" dy="13.5">开展了一系列的资助活动宣传，真正让交通学</tspan><tspan x="1713" dy="13.5">院的每一个学子都能了解和认识国家对贫困大</tspan><tspan x="1713" dy="13.5">学生一系列的资助宣传政策，以及促使我院的</tspan><tspan x="1713" dy="13.5">学子在以后的学习生活中真正的以自己的行动</tspan><tspan x="1713" dy="13.5">来报效祖国，回报社会的关怀。以下是我院在</tspan><tspan x="1713" dy="13.5">开展本次活动相关总结：</tspan></text></g>
<g id="p5-g1"><rect class="box" x="1946" y="3035.5" width="221" height="38" rx="5"/><text class="t" x="1951" y="3052.5"><tspan x="1951">一、认真学习文件精神、制定学院的相关资助</tspan><tspan x="1951" dy="13.5">宣传工作安排</tspan></text></g>
<g id="p5-g1t"><rect class="box" x="2187" y="2934" width="220" height="240.5" rx="5"/><text class="t" x="2192" y="2951"><tspan x="2192">学院领导高度重视学生资助政策宣传月的各项</tspan><tspan x="2192" dy="13.5">工作，以宣传国家学生资助政策，加强大学生</tspan><tspan x="2192" dy="13.5">诚信、感恩教育为中心，引导全体师生深入学</tspan><tspan x="2192" dy="13.5">习国家学生资助政策，激励家庭经济困难学生</tspan><tspan x="2192" dy="13.5">克服困难、自强自立、努力成才。学院分团委</tspan><tspan x="2192" dy="13.5">在接到学校的相关资助宣传文件精神之后，认</tspan><tspan x="2192" dy="13.5">真研究，制定学院资助宣传月的活动方案，召</tspan><tspan x="2192" dy="13.5">开专题会议，对学生干部和学生进行系统的培</tspan><tspan x="2192" dy="13.5">训，部署我院资助宣传各项工作安排，制定了</tspan><tspan x="2192" dy="13.5">针对"学生资助政策宣传月"工作的方案，统一</tspan><tspan x="2192" dy="13.5">部署工作安排。各个辅导员、学生干部分工开</tspan><tspan x="2192" dy="13.5">展，在所在专业班级中召开主题教育系列的宣</tspan><tspan x="2192" dy="13.5">传方案，认真学习和宣传相关资助宣传内容，</tspan><tspan x="2192" dy="13.5">让学生深入了解，确保国家对大学生的各项资</tspan><tspan x="2192" dy="13.5">助政策得到更好的贯彻和落实，让资助政策深</tspan><tspan x="2192" dy="13.5">入到我院的每一个师生心中。</tspan></text></g>
<g id="p5-g2"><rect class="box" x="1946" y="3305" width="221" height="24.5" rx="5"/><text class="t" x="1951" y="3322">二、层层落实，升华主题教育，开展板报宣传</text></g>
<g id="p5-g2a"><rect class="box" x="2187" y="3196.5" width="220" height="92" rx="5"/><text class="t" x="2192" y="3213.5"><tspan x="2192">学院各个辅导员、学生干部在系统学习相关文</tspan><tspan x="2192" dy="13.5">件精神和学院的工作安排以后，认真对待此次</tspan><tspan x="2192" dy="13.5">资助宣传活动，结合自己班级的实际情况，认</tspan><tspan x="2192" dy="13.5">真开展了一系列的主题班会策划活动，让资助</tspan><tspan x="2192" dy="13.5">政策在学生心中真正生根发芽，让学生真正感</tspan><tspan x="2192" dy="13.5">受到国家资助政策的温暖之手。</tspan></text></g>
<g id="p5-g2b"><rect class="box" x="2187" y="3311" width="220" height="159.5" rx="5"/><text class="t" x="2192" y="3328"><tspan x="2192">为了让更多的学生了解国家资助政策，结合我</tspan><tspan x="2192" dy="13.5">院的实际情况开展了资助政策板报设计比赛，</tspan><tspan x="2192" dy="13.5">以此来达到广泛宣传的目的，首先学院各个</tspan><tspan x="2192" dy="13.5">班级在本班做好宣传板报，然后各班级之间进</tspan><tspan x="2192" dy="13.5">行评比，对优秀的班级板报给相应的奖励。最</tspan><tspan x="2192" dy="13.5">后由本学院以大学生诚信教育、感恩教育和励</tspan><tspan x="2192" dy="13.5">志教育内容出一版宣传板报参与各二级学院的</tspan><tspan x="2192" dy="13.5">比赛，由校里的领导进行评比。此次我院出的</tspan><tspan x="2192" dy="13.5">板报贴在本学院的指定宣传栏，板报主题鲜明</tspan><tspan x="2192" dy="13.5">，内容丰富多彩，版面构思新颖、布局合理、</tspan><tspan x="2192" dy="13.5">美观大方，得到了我院相关领导的赞赏。</tspan></text></g>
<g id="p5-g3"><rect class="box" x="1946" y="3553" width="84" height="24.5" rx="5"/><text class="t" x="1951" y="3570">三、活动的成果</text></g>
<g id="p5-g3t"><rect class="box" x="2051" y="3491.5" width="220" height="146" rx="5"/><text class="t" x="2056" y="3508.5"><tspan x="2056">通过此次资助宣传活动的开展，我院全体师生</tspan><tspan x="2056" dy="13.5">师对国家的资助政策都有了更深刻的认识，形</tspan><tspan x="2056" dy="13.5">成了全院老师共同关注家庭经济困难学生，把</tspan><tspan x="2056" dy="13.5">国家对大学生的资助政策真正用到了学院的贫</tspan><tspan x="2056" dy="13.5">困生，帮助他们顺利完成学业。同时引导同学</tspan><tspan x="2056" dy="13.5">们如何用自己的行动回报祖国、回报社会，取</tspan><tspan x="2056" dy="13.5">得了非常好的效果，得到了全院师生一致的好</tspan><tspan x="2056" dy="13.5">评，教师们都表示要努力工作，做好教书育人</tspan><tspan x="2056" dy="13.5">的工作，学生更好的用心学习，努力奋斗，将</tspan><tspan x="2056" dy="13.5">来为祖国贡献自己的力量。</tspan></text></g>
<g id="p5-g4"><rect class="box" x="1946" y="3758" width="147" height="24.5" rx="5"/><text class="t" x="1951" y="3775">四、活动还存在的不足与改进</text></g>
<g id="p5-g4a"><rect class="box" x="2113.5" y="3660" width="220" height="105.5" rx="5"/><text class="t" x="2118.5" y="3677"><tspan x="2118.5">1、我院在此次资助活动月的宣传，在工作方</tspan><tspan x="2118.5" dy="13.5">法还有待进一步的提高，提别是在后续工作的</tspan><tspan x="2118.5" dy="13.5">开展，如在个班级开展活动中，未能真正在基</tspan><tspan x="2118.5" dy="13.5">层班级起到立竿见影的效果，还有少数同学认</tspan><tspan x="2118.5" dy="13.5">为这是在开展形式主义的教育，应该在宣传方</tspan><tspan x="2118.5" dy="13.5">法、技巧上多加改进。达到更好的宣传教育效</tspan><tspan x="2118.5" dy="13.5">果。</tspan></text></g>
<g id="p5-g4b"><rect class="box" x="2113.5" y="3786.5" width="220" height="78.5" rx="5"/><text class="t" x="2118.5" y="3803.5"><tspan x="2118.5">2、在宣传效果上要再次提高，通过此次教育</tspan><tspan x="2118.5" dy="13.5">班会的召开，不仅让同学们了解了资助政策方</tspan><tspan x="2118.5" dy="13.5">面的知识，更让同学们学会诚信、懂得感恩和</tspan><tspan x="2118.5" dy="13.5">践行励志，把贫困的压力化为奋斗的动力，在</tspan><tspan x="2118.5" dy="13.5">成长的道路上自强不息。</tspan></text></g>

<g id="p2-main"><rect class="box" x="765" y="1521.5" width="219" height="92" rx="5"/><text class="t" x="770" y="1538.5"><tspan x="770">为进一步推动"金秋助学"活动创新发展，全面</tspan><tspan x="770" dy="13.5">深化助学、助能、助志、助业"四助"全程助学</tspan><tspan x="770" dy="13.5">模式，进一步履行好工会帮扶服务职工的职责</tspan><tspan x="770" dy="13.5">，省总工会今年继续深入开展"金秋助学"活动</tspan><tspan x="770" dy="13.5">，并组织开展一次专题调研活动，现将有关事</tspan><tspan x="770" dy="13.5">项通知如下：</tspan></text></g>
<g id="p2-L1"><rect class="box" x="524.5" y="786" width="220" height="24.5" rx="5"/><text class="t" x="529.5" y="803">一、提前部署，认真搞好摸底和专题调研工作</text></g>
<g id="p2-L1a"><rect class="box" x="285" y="624" width="220" height="65" rx="5"/><text class="t" x="290" y="641"><tspan x="290">各地各单位工会要高度重视今年的"金秋助学"</tspan><tspan x="290" dy="13.5">活动，认真总结过去几年来助学活动的经验和</tspan><tspan x="290" dy="13.5">不足，早动员、早部署、早安排，增强助学帮</tspan><tspan x="290" dy="13.5">扶工作的及时性、针对性、有效性。</tspan></text></g>
<g id="p2-L1b"><rect class="box" x="285" y="711" width="220" height="146" rx="5"/><text class="t" x="290" y="728"><tspan x="290">1.提前摸底调查。利用全国工会帮扶工作管理</tspan><tspan x="290" dy="13.5">软件筛选出符合救助条件的困难职工家庭子女</tspan><tspan x="290" dy="13.5">，严格按照"六清"标准(家庭困难状况清、家</tspan><tspan x="290" dy="13.5">庭帮扶情况清、子女就学情况清、录取入学学</tspan><tspan x="290" dy="13.5">费清、助学愿望清、就业意向清)进行分组走</tspan><tspan x="290" dy="13.5">访，全面掌握困难职工子女的上学和就业情况</tspan><tspan x="290" dy="13.5">。特别是20__年参加高考困难职工子女基本</tspan><tspan x="290" dy="13.5">情况，各级工会要提早进行摸底统计，为今年</tspan><tspan x="290" dy="13.5">顺利谋划、推进"金秋助学"有关活动提供有力</tspan><tspan x="290" dy="13.5">依据。</tspan></text></g>
<g id="p2-L1c"><rect class="box" x="285" y="878" width="220" height="119" rx="5"/><text class="t" x="290" y="895"><tspan x="290">2.深入调查研究。各级工会要集中时间、集中</tspan><tspan x="290" dy="13.5">力量开展一次"金秋助学"活动专题调研，为期</tspan><tspan x="290" dy="13.5">一个月，认真总结近年来特别是近五年来开展</tspan><tspan x="290" dy="13.5">"金秋助学"活动的做法、经验和体会，深入分</tspan><tspan x="290" dy="13.5">析存在的问题和困难，提出有针对性、前瞻性</tspan><tspan x="290" dy="13.5">的意见和建议，以市为单位形成调研报告，以</tspan><tspan x="290" dy="13.5">此推动"金秋助学"这项工会品牌工作焕发出新</tspan><tspan x="290" dy="13.5">的生机和活力。</tspan></text></g>
<g id="p2-L1n"><rect class="box" x="45.5" y="905" width="220" height="65" rx="5"/><text class="t" x="50.5" y="922"><tspan x="50.5">请各市于6月16日前完成调查摸底工作，并填</tspan><tspan x="50.5" dy="13.5">写上报《20__年参加高考困难职工子女基本</tspan><tspan x="50.5" dy="13.5">情况汇总表》;于6月20日前完成调研报告，并</tspan><tspan x="50.5" dy="13.5">报省总保障部。</tspan></text></g>
<g id="p2-L2"><rect class="box" x="578" y="1338" width="167" height="24.5" rx="5"/><text class="t" x="583" y="1355">二、扩大救助范围，提升救助标准</text></g>
<g id="p2-L2a"><rect class="box" x="475" y="1120.5" width="82" height="24.5" rx="5"/><text class="t" x="480" y="1137.5">1.扩大救助范围</text></g>
<g id="p2-L2a1"><rect class="box" x="236" y="1020" width="219.5" height="78.5" rx="5"/><text class="t" x="241" y="1037"><tspan x="241">(1)当年参加高考考入本科、大专、中专(含经</tspan><tspan x="241" dy="13.5">教育部批准备案，列入全国普通高校统招计划</tspan><tspan x="241" dy="13.5">的本、专科民办院校)和往年考入上述院校仍</tspan><tspan x="241" dy="13.5">在校就读的纳入全国工会帮扶工作管理软件的</tspan><tspan x="241" dy="13.5">困难职工子女。</tspan></text></g>
<g id="p2-L2a2"><rect class="box" x="236" y="1119.5" width="219.5" height="51.5" rx="5"/><text class="t" x="241" y="1136.5"><tspan x="241">(2)当年参加高考未考入本专科院校，自愿在</tspan><tspan x="241" dy="13.5">承担20__年省城乡技能就业扶助计划的技工</tspan><tspan x="241" dy="13.5">学校就读的困难职工子女。</tspan></text></g>
<g id="p2-L2a3"><rect class="box" x="265" y="1193" width="190.5" height="24.5" rx="5"/><text class="t" x="270" y="1210">(3)在中小学阶段就读的困难职工子女。</text></g>
<g id="p2-L2b"><rect class="box" x="475" y="1338" width="82" height="24.5" rx="5"/><text class="t" x="480" y="1355">2.提升救助标准</text></g>
<g id="p2-L2b1"><rect class="box" x="236" y="1240" width="219.5" height="65" rx="5"/><text class="t" x="241" y="1257"><tspan x="241">(1)当年考入本专科院校的救助标准为大学本</tspan><tspan x="241" dy="13.5">科不低于3000元、大专(含高职)不低于2000</tspan><tspan x="241" dy="13.5">元、中专不低于1000元;对特困单亲家庭子女</tspan><tspan x="241" dy="13.5">，应适当提高救助标准。</tspan></text></g>
<g id="p2-L2b2"><rect class="box" x="236" y="1327" width="219.5" height="51.5" rx="5"/><text class="t" x="241" y="1344"><tspan x="241">(2)自愿在承担20__年省城乡技能就业扶助计</tspan><tspan x="241" dy="13.5">划的技工学校就读的困难职工子女，给予不低</tspan><tspan x="241" dy="13.5">于1000元一次性助学金。</tspan></text></g>
<g id="p2-L2b3"><rect class="box" x="236" y="1401" width="219.5" height="51.5" rx="5"/><text class="t" x="241" y="1418"><tspan x="241">(3)对已在上述大、中专院校就读的困难职工</tspan><tspan x="241" dy="13.5">子女以及正在中小学阶段就读的困难职工子女</tspan><tspan x="241" dy="13.5">救助标准由各市各单位工会结合实际确定。</tspan></text></g>
<g id="p2-L2c"><rect class="box" x="455" y="1555" width="102" height="24.5" rx="5"/><text class="t" x="460" y="1572">3.加大资金筹措力度</text></g>
<g id="p2-L2c1"><rect class="box" x="214" y="1474" width="220" height="186.5" rx="5"/><text class="t" x="219" y="1491"><tspan x="219">各级地方工会要积极争取本级财政支持，同时</tspan><tspan x="219" dy="13.5">从工会经费中逐年增加"金秋助学"专项资金</tspan><tspan x="219" dy="13.5">和活动经费。充分发挥基层工会组织的作用，</tspan><tspan x="219" dy="13.5">动员"爱心"企事业单位踊跃捐款助学，可按照</tspan><tspan x="219" dy="13.5">"谁筹集、谁管理、谁使用、专款专用、项目</tspan><tspan x="219" dy="13.5">化运作"的原则筹措捐款，力争每年每个设区</tspan><tspan x="219" dy="13.5">市动员不少于20家企业，每个县动员不少于3</tspan><tspan x="219" dy="13.5">家企业设立"金秋助学"(助学育才)资金(基金、</tspan><tspan x="219" dy="13.5">奖学金等)，资金可由本企业支配使用或明确</tspan><tspan x="219" dy="13.5">指定救助群体，由工会组织具体运作，也可以</tspan><tspan x="219" dy="13.5">交由市、县总工会统筹使用。鼓励"爱心"企事</tspan><tspan x="219" dy="13.5">业单位或个人与受助学生结成帮扶对子，给予</tspan><tspan x="219" dy="13.5">困难学生持续性助学救助。</tspan></text></g>
<g id="p2-L3"><rect class="box" x="577" y="1896.5" width="167" height="24.5" rx="5"/><text class="t" x="582" y="1913.5">三、健全助学机制，延伸助学链条</text></g>
<g id="p2-L3a"><rect class="box" x="337" y="1682" width="220" height="132.5" rx="5"/><text class="t" x="342" y="1699"><tspan x="342">1.健全"金秋助学"专门档案。各级工会要将历</tspan><tspan x="342" dy="13.5">年"金秋助学"的受助学生本人情况和救助信息</tspan><tspan x="342" dy="13.5">建档，依档帮扶，实名制管理，同时配合省总</tspan><tspan x="342" dy="13.5">今年启动实施的"助学育__计划"，从寒门学子</tspan><tspan x="342" dy="13.5">中遴选品学兼优者进行建档管理，提供从入学</tspan><tspan x="342" dy="13.5">救助到就业帮扶的全程重点帮扶服务，同时录</tspan><tspan x="342" dy="13.5">入全国工会帮扶工作管理软件，做到底数清、</tspan><tspan x="342" dy="13.5">情况明，为建立长期救助服务机制打下坚实基</tspan><tspan x="342" dy="13.5">础。</tspan></text></g>
<g id="p2-L3b"><rect class="box" x="337" y="1838" width="220" height="146" rx="5"/><text class="t" x="342" y="1855"><tspan x="342">2.健全"金秋助学"长期联系制度。各级工会要</tspan><tspan x="342" dy="13.5">健全完善"金秋助学"联谊制度，建立联系卡制</tspan><tspan x="342" dy="13.5">度，完善各项活动制度，强化对寒门学子的精</tspan><tspan x="342" dy="13.5">神引导和素质培养。市级工会要建立联谊会，</tspan><tspan x="342" dy="13.5">县级以上(含县级)工会都要建立长期联系制度</tspan><tspan x="342" dy="13.5">，各级工会通过开展座谈会、联谊会、社会实</tspan><tspan x="342" dy="13.5">践、主题夏(冬)令营、志愿者服务等特色活动</tspan><tspan x="342" dy="13.5">，加强与受助学生的长期联系，注重加强对受</tspan><tspan x="342" dy="13.5">助学生的心理引导，培养受助学生健康阳光、</tspan><tspan x="342" dy="13.5">自信自强的精神品格和强烈的社会责任感。</tspan></text></g>
<g id="p2-L3c"><rect class="box" x="337" y="2005" width="220" height="132.5" rx="5"/><text class="t" x="342" y="2022"><tspan x="342">3.建立健全"金秋助学"助业基地。全面深化链</tspan><tspan x="342" dy="13.5">条式全程助学活动，在助学基础上，要着力在</tspan><tspan x="342" dy="13.5">助能、助志尤其是助业上下功夫。各地工会要</tspan><tspan x="342" dy="13.5">借鉴石家庄等市建立助业基地的经验，积极引</tspan><tspan x="342" dy="13.5">导有社会责任感企业提供实习、见习及就业岗</tspan><tspan x="342" dy="13.5">位，今年每个市要至少联系5家以上爱心企业</tspan><tspan x="342" dy="13.5">签订助业协议或建立助业基地，帮助寒门学子</tspan><tspan x="342" dy="13.5">早日成才、早日实现就业，帮助家庭早日脱困</tspan><tspan x="342" dy="13.5">。</tspan></text></g>
<g id="p2-L4"><rect class="box" x="577" y="2324" width="167" height="24.5" rx="5"/><text class="t" x="582" y="2341">四、选树助学典型，加大活动宣传</text></g>
<g id="p2-L4a"><rect class="box" x="337" y="2159.5" width="220" height="186.5" rx="5"/><text class="t" x="342" y="2176.5"><tspan x="342">要注重选树、培养过硬典型，各地各单位都要</tspan><tspan x="342" dy="13.5">树立一批具有本地特色，有说服力、有影响力</tspan><tspan x="342" dy="13.5">的受助学生的励志典型、助学与助业相衔接的</tspan><tspan x="342" dy="13.5">典型、捐资助学单位的爱心典型、组织活动有</tspan><tspan x="342" dy="13.5">声有色的工会典型等各类典型，并认真总结推</tspan><tspan x="342" dy="13.5">广，发挥典型的示范引领作用。同时，各地要</tspan><tspan x="342" dy="13.5">结合本地实际超前谋划，制定好宣传方案，加</tspan><tspan x="342" dy="13.5">大对"金秋助学"活动的宣传，借助报纸、电视</tspan><tspan x="342" dy="13.5">台、电台、网络等媒介，开展有声势、有影响</tspan><tspan x="342" dy="13.5">的宣传活动，进一步扩大"金秋助学"活动品牌</tspan><tspan x="342" dy="13.5">效应及社会影响力，从而引导社会各界关注、</tspan><tspan x="342" dy="13.5">参与"金秋助学"活动，为活动的深入开展营造</tspan><tspan x="342" dy="13.5">良好的舆论氛围。</tspan></text></g>
<g id="p2-L4b"><rect class="box" x="337" y="2368.5" width="220" height="105.5" rx="5"/><text class="t" x="342" y="2385.5"><tspan x="342">各级工会要及时向省总报送"金秋助学"活动各</tspan><tspan x="342" dy="13.5">阶段工作进展情况和信息，救助工作结束后，</tspan><tspan x="342" dy="13.5">各级工会须填写《20__年困难职工子女入学</tspan><tspan x="342" dy="13.5">情况汇总表》、《20__年在校生救助情况汇</tspan><tspan x="342" dy="13.5">总表》，9月5日前向省总保障部上报《20__</tspan><tspan x="342" dy="13.5">年金秋助学活动统计表》和"金秋助学"活动总</tspan><tspan x="342" dy="13.5">结。</tspan></text></g>

<g id="p4-intro"><rect class="box" x="765" y="2495" width="219" height="51.5" rx="5"/><text class="t" x="770" y="2512"><tspan x="770">本学期初，德州学院化学系按照德州学院学生</tspan><tspan x="770" dy="13.5">工作会议的要求，积极开展学生资助政策与征</tspan><tspan x="770" dy="13.5">信知识的宣传教育活动，取得了良好的效果。</tspan></text></g>
<g id="p4-K1"><rect class="box" x="765" y="2775" width="219" height="38" rx="5"/><text class="t" x="770" y="2792"><tspan x="770">一、面向全体化学系同学，认真细致地开展学</tspan><tspan x="770" dy="13.5">生资助政策的宣传</tspan></text></g>
<g id="p4-K1a"><rect class="box" x="525" y="2567" width="220" height="132.5" rx="5"/><text class="t" x="530" y="2584"><tspan x="530">学生了解政府与学校的相关学生资助政策，有</tspan><tspan x="530" dy="13.5">利于学生明确自身的享受的权利与承担的义务</tspan><tspan x="530" dy="13.5">，感受到国家与学校对自身的关爱，有利于学</tspan><tspan x="530" dy="13.5">生自觉地履行助学政策中的相关规定，有利于</tspan><tspan x="530" dy="13.5">学生更好的从学生资助中获益，顺利完成大学</tspan><tspan x="530" dy="13.5">学业。在10级新生入学以后，化学系的领导</tspan><tspan x="530" dy="13.5">与老师一直积极主动地关心新生的经济状况，</tspan><tspan x="530" dy="13.5">并注意做好相关资助政策与征信知识的宣传教</tspan><tspan x="530" dy="13.5">育活动。</tspan></text></g>
<g id="p4-K1b"><rect class="box" x="525" y="2721" width="220" height="78.5" rx="5"/><text class="t" x="530" y="2738"><tspan x="530">首先，在学生入学时，就对入学的新生以及来</tspan><tspan x="530" dy="13.5">大学送孩子的家长进行主动的沟通，将政府与</tspan><tspan x="530" dy="13.5">学校的主要助学政策进行了简要的介绍，让学</tspan><tspan x="530" dy="13.5">生与家长在入学时就对相关政策做到心中有数</tspan><tspan x="530" dy="13.5">。</tspan></text></g>
<g id="p4-K1c"><rect class="box" x="525" y="2823" width="220" height="78.5" rx="5"/><text class="t" x="530" y="2840"><tspan x="530">其次，对于家庭经济比较困难的学生，各个班</tspan><tspan x="530" dy="13.5">级的导师都进行单独交谈，给予特别的照顾，</tspan><tspan x="530" dy="13.5">主动了解他们的家庭情况与思想状态，并将相</tspan><tspan x="530" dy="13.5">关的助学政策告诉他们，解除他们的思想顾虑</tspan><tspan x="530" dy="13.5">，鼓励他们在大学里安心读书。</tspan></text></g>
<g id="p4-K1d"><rect class="box" x="525" y="2924" width="220" height="65" rx="5"/><text class="t" x="530" y="2941"><tspan x="530">最后，化学系10级各个班级召开主题班会活</tspan><tspan x="530" dy="13.5">动，认真地逐条学习《高等学校学生资助政策</tspan><tspan x="530" dy="13.5">简介》，让每个同学都对学生资助的相关政策</tspan><tspan x="530" dy="13.5">有所了解，明确自身的奋斗目标。</tspan></text></g>
<g id="p4-K2"><rect class="box" x="765" y="3079" width="219" height="38" rx="5"/><text class="t" x="770" y="3096"><tspan x="770">二、将宣传资助政策与落实资助政策相结合，</tspan><tspan x="770" dy="13.5">开展教育活动</tspan></text></g>
<g id="p4-K2a"><rect class="box" x="525" y="3011" width="220" height="173" rx="5"/><text class="t" x="530" y="3028"><tspan x="530">在宣传资助政策的同时，化学系还努力做好与</tspan><tspan x="530" dy="13.5">资助政策相关学生工作。比如说，化学系认真</tspan><tspan x="530" dy="13.5">组织了本学年的贫困生认定工作，在学习政府</tspan><tspan x="530" dy="13.5">与学校学生资助政策的"同时，将按照相关规</tspan><tspan x="530" dy="13.5">定，安排家庭经济困难学生的班级与年级评议</tspan><tspan x="530" dy="13.5">活动。参照评议的结果，化学系积极为经济困</tspan><tspan x="530" dy="13.5">难的学生解决实际困难，比如安排勤工助学岗</tspan><tspan x="530" dy="13.5">位，进行必要的资助，帮助办理国家助学贷款</tspan><tspan x="530" dy="13.5">等。将宣传资助政策与落实这些政策同时展开</tspan><tspan x="530" dy="13.5">，使学生们更加明确了这些政策的落实步骤，</tspan><tspan x="530" dy="13.5">让学生感觉到政府与学校对于学生资助的工作</tspan><tspan x="530" dy="13.5">力度。</tspan></text></g>
<g id="p4-K3"><rect class="box" x="765" y="3345" width="219" height="38" rx="5"/><text class="t" x="770" y="3362"><tspan x="770">三、将宣传助学政策、征信知识与大学生素质</tspan><tspan x="770" dy="13.5">形象工程的建设相结合</tspan></text></g>
<g id="p4-K3a"><rect class="box" x="525" y="3204.5" width="220" height="159.5" rx="5"/><text class="t" x="530" y="3221.5"><tspan x="530">化学系在开展资助政策的过程中，特别注重了</tspan><tspan x="530" dy="13.5">对学生的思想教育，将其纳入大学生素质形象</tspan><tspan x="530" dy="13.5">工程的建设过程中。化学系通过耐心的工作，</tspan><tspan x="530" dy="13.5">引导学生正确看待国家的助学措施，诚实的根</tspan><tspan x="530" dy="13.5">据自身情况申请资助，在得到资助后合理使用</tspan><tspan x="530" dy="13.5">资助金。化学系还在学院内大力倡导"力行节</tspan><tspan x="530" dy="13.5">约，理性消费"，特别组织了学生的节约评比</tspan><tspan x="530" dy="13.5">活动，表彰那些在节水节电等方面表现突出宿</tspan><tspan x="530" dy="13.5">舍的同学。通过这些活动与教育工作，让诚实</tspan><tspan x="530" dy="13.5">、守信、节约成为大学生的健康形象的重要组</tspan><tspan x="530" dy="13.5">成部分。</tspan></text></g>
<g id="p4-K3b"><rect class="box" x="525" y="3387" width="220" height="105.5" rx="5"/><text class="t" x="530" y="3404"><tspan x="530">通过本学期初的学生资助方面的相关宣传与教</tspan><tspan x="530" dy="13.5">育工作，让化学系同学都对学生资助的相关政</tspan><tspan x="530" dy="13.5">策有所了解，在学生中初步形成了"讲诚信，</tspan><tspan x="530" dy="13.5">讲文明，比节约，比成才"的良好风尚。相信</tspan><tspan x="530" dy="13.5">在学校学工部的指导下，我系一定会进一步做</tspan><tspan x="530" dy="13.5">好学生资助的相关工作，让化学系的所有学生</tspan><tspan x="530" dy="13.5">能在大学里安心读书，成功成才。</tspan></text></g>

<g id="watermarks">
<text class="wm" x="611" y="516" transform="rotate(-30 611 516)">树图 shutu.cn</text>
<text class="wm" x="1932" y="474" transform="rotate(-30 1932 474)">树图 shutu.cn</text>
<text class="wm" x="611" y="1496" transform="rotate(-30 611 1496)">树图 shutu.cn</text>
<text class="wm" x="1932" y="1496" transform="rotate(-30 1932 1496)">树图 shutu.cn</text>
<text class="wm" x="636" y="2505" transform="rotate(-30 636 2505)">树图 shutu.cn</text>
<text class="wm" x="1932" y="2543" transform="rotate(-30 1932 2543)">树图 shutu.cn</text>
<text class="wm" x="611" y="3540" transform="rotate(-30 611 3540)">树图 shutu.cn</text>
<text class="wm" x="1932" y="3540" transform="rotate(-30 1932 3540)">树图 shutu.cn</text>
</g>
</svg>
